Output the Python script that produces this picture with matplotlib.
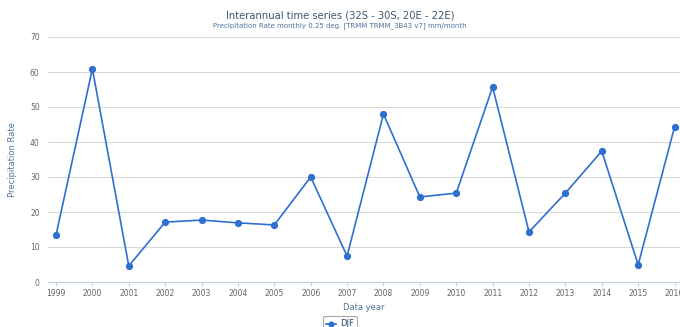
import matplotlib
matplotlib.use("Agg")
import matplotlib.pyplot as plt

# DJF precipitation rate per year
years = [1999, 2000, 2001, 2002, 2003, 2004, 2005, 2006, 2007, 2008,
         2009, 2010, 2011, 2012, 2013, 2014, 2015, 2016]
djf = [13.4, 60.9, 4.6, 17.1, 17.7, 16.9, 16.3, 30.0, 7.4, 48.0,
       24.3, 25.4, 55.7, 14.3, 25.4, 37.4, 4.9, 44.3]
yticks = [0, 10, 20, 30, 40, 50, 60, 70]

title = "Interannual time series (32S - 30S, 20E - 22E)"
subtitle = "Precipitation Rate monthly 0.25 deg. [TRMM TRMM_3B43 v7] mm/month"

plt.rcParams['font.family'] = ['DejaVu Sans']
fig = plt.figure(figsize=(6.8, 3.27), dpi=100)
ax = fig.add_axes([48/680, 1-282/327, 1-48/680, (282-37)/327])

ax.plot(years, djf, color='#2f6fd0', lw=1.2, marker='o', ms=4.2, label='DJF', clip_on=False, zorder=3)

ax.set_xlim(1998.78, 2016.15)
ax.set_ylim(0, 70)
ax.set_yticks(yticks)
ax.set_xticks(years)
ax.set_xticklabels([str(y) for y in years])
ax.grid(axis='y', color='#d8d8d8', lw=0.8)
ax.set_axisbelow(True)
for s in ['top', 'right', 'left']:
    ax.spines[s].set_visible(False)
ax.spines['bottom'].set_color('#c0d0e0')
ax.tick_params(axis='y', length=0, labelsize=5.5, labelcolor='#666666', pad=6)
ax.tick_params(axis='x', length=3, color='#c0d0e0', labelsize=5.5, labelcolor='#666666', pad=2)

ax.set_xlabel("Data year", fontsize=6, color='#4d759e', labelpad=4)
ax.set_ylabel("Precipitation Rate", fontsize=6, color='#4d759e', labelpad=9)

fig.text(0.5, 1-15/327, title, ha='center', va='center', fontsize=7.2, color='#3e576f')
fig.text(0.5, 1-26/327, subtitle, ha='center', va='center', fontsize=5.0, color='#4d759e')

leg = ax.legend(loc='upper center', bbox_to_anchor=(0.5, 1-312/327), bbox_transform=fig.transFigure,
                fontsize=6, frameon=True, fancybox=True, handlelength=1.2, handletextpad=0.4,
                borderpad=0.4, markerscale=0.8)
leg.get_frame().set_edgecolor('#909090')
leg.get_frame().set_linewidth(0.8)
for t in leg.get_texts():
    t.set_color('#274b6d')

fig.savefig("out.png", dpi=100)
